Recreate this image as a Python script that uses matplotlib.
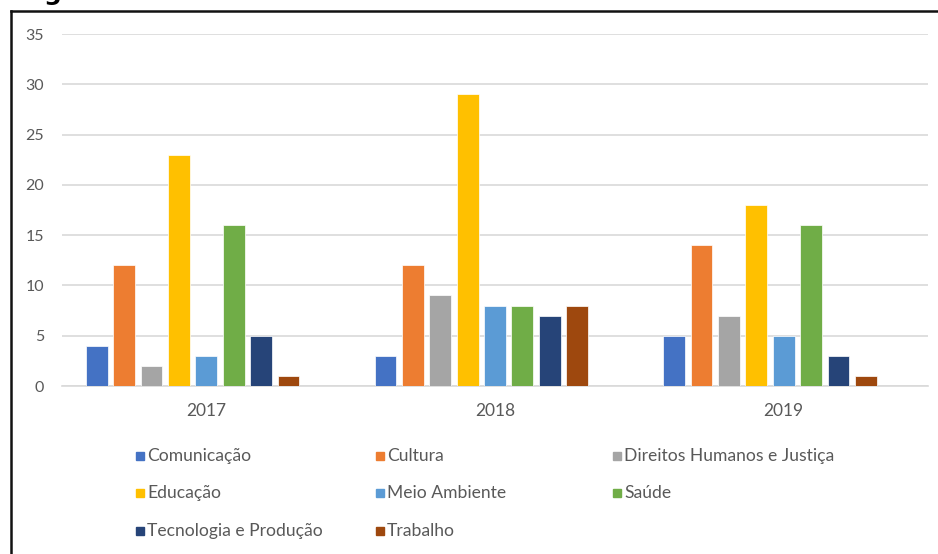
import matplotlib
matplotlib.use("Agg")
import matplotlib.pyplot as plt
from matplotlib.patches import Rectangle
from matplotlib.lines import Line2D
import numpy as np

plt.rcParams['font.family'] = ['Lato', 'DejaVu Sans']

years = ["2017", "2018", "2019"]
series = ["Comunicação", "Cultura", "Direitos Humanos e Justiça", "Educação",
          "Meio Ambiente", "Saúde", "Tecnologia e Produção", "Trabalho"]
values = {
    "Comunicação": [4, 3, 5],
    "Cultura": [12, 12, 14],
    "Direitos Humanos e Justiça": [2, 9, 7],
    "Educação": [23, 29, 18],
    "Meio Ambiente": [3, 8, 5],
    "Saúde": [16, 8, 16],
    "Tecnologia e Produção": [5, 7, 3],
    "Trabalho": [1, 8, 1],
}
colors = ["#4472C4", "#ED7D31", "#A5A5A5", "#FFC000",
          "#5B9BD5", "#70AD47", "#264478", "#9E480E"]
yticks = [0, 5, 10, 15, 20, 25, 30, 35]

W, H = 938, 554
fig = plt.figure(figsize=(W / 100, H / 100), dpi=100)
L, R, T, B = 62, 928, 34, 386
ax = fig.add_axes([L / W, (H - B) / H, (R - L) / W, (B - T) / H])

x = np.arange(len(years))
step = 0.0948
width = 0.0753
for i, (name, c) in enumerate(zip(series, colors)):
    ax.bar(x + (i - 4) * step, values[name], width=width, color=c,
           edgecolor="white", linewidth=0.5, zorder=3)

ax.set_xlim(-0.5, 2.5)
ax.set_ylim(0, 35)
ax.set_yticks(yticks)
ax.set_yticklabels([str(v) for v in yticks])
ax.set_xticks(x)
ax.set_xticklabels(years)
ax.grid(axis="y", color="#D9D9D9", linewidth=1.2, zorder=0)
for s in ["top", "right", "left"]:
    ax.spines[s].set_visible(False)
ax.spines["bottom"].set_color("#D9D9D9")
ax.spines["bottom"].set_linewidth(1.2)
ax.tick_params(axis="y", length=0, pad=13, labelsize=11.5, labelcolor="#595959")
ax.tick_params(axis="x", length=0, pad=12, labelsize=12.5, labelcolor="#595959")

# legend (manual, Excel-like grid)
col_x = [136, 376, 613]
row_y = [456, 493, 531]
for i, (name, c) in enumerate(zip(series, colors)):
    r, cidx = divmod(i, 3)
    mx, my = col_x[cidx], row_y[r]
    fig.add_artist(Rectangle((mx / W, 1 - (my + 4) / H), 8 / W, 8 / H,
                             transform=fig.transFigure, color=c))
    fig.text((mx + 11) / W, 1 - my / H, name, va="center", ha="left",
             fontsize=12.6, color="#595959")

# frame lines
fig.add_artist(Line2D([11 / W, 1.0], [1 - 11 / H, 1 - 11 / H],
                      transform=fig.transFigure, color="#111111", linewidth=1.8))
fig.add_artist(Line2D([11 / W, 11 / W], [1 - 11 / H, 0],
                      transform=fig.transFigure, color="#111111", linewidth=1.8))
# cut-off title fragment (the reference shows only the bottom of a "g")
fig.text(44 / W, 1 - 5 / H, "g", fontsize=18, fontweight="bold",
         va="bottom", ha="left", color="black", family="DejaVu Sans")

fig.savefig("out.png", dpi=100)
